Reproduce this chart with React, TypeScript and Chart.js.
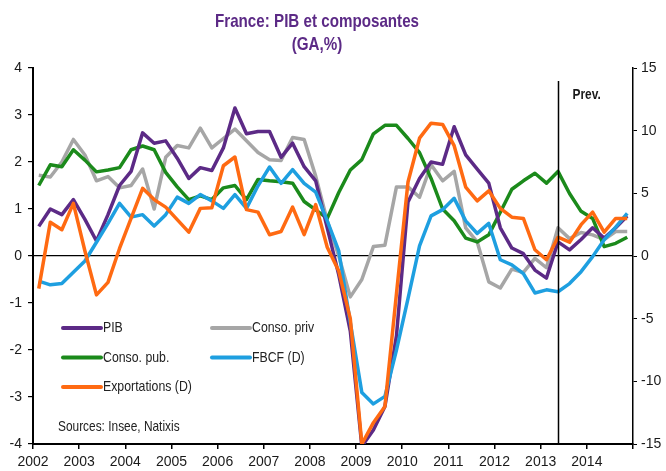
import React, { useEffect, useRef } from 'react';
import { Chart, registerables } from 'chart.js';

Chart.register(...registerables);

// ---- Data (quarterly, 2002 T1 .. 2014 T4) ----
const years = [2002, 2003, 2004, 2005, 2006, 2007, 2008, 2009, 2010, 2011, 2012, 2013, 2014];
const quarters = [1, 2, 3, 4];
const forecastStart = '2013 T2';

const title = 'France: PIB et composantes';
const subtitle = '(GA,%)';
const source = 'Sources: Insee, Natixis';
const prevLabel = 'Prev.';

const leftTicks = [4, 3, 2, 1, 0, -1, -2, -3, -4];
const rightTicks = [15, 10, 5, 0, -5, -10, -15];

// Left axis (GA, %)
const pib = [
  0.63, 1.0, 0.88, 1.2, 0.78, 0.32, 0.88, 1.5, 1.8, 2.62, 2.4, 2.45, 2.08,
  1.65, 1.88, 1.82, 2.3, 3.15, 2.6, 2.65, 2.65, 2.1, 2.4, 1.9, 1.6, 0.6,
  -0.4, -1.6, -4.05, -3.7, -3.2, -1.7, 1.15, 1.65, 2.0, 1.95, 2.75, 2.15, 1.85,
  1.55, 0.6, 0.17, 0.05, -0.3, -0.47, 0.3, 0.13, 0.35, 0.6, 0.38, 0.6, 0.85,
];
const consoPriv = [
  1.72, 1.68, 2.0, 2.48, 2.15, 1.6, 1.69, 1.45, 1.5, 1.85, 1.0, 2.1, 2.35,
  2.3, 2.72, 2.3, 2.5, 2.7, 2.45, 2.2, 2.05, 2.03, 2.52, 2.48, 1.7, 0.75,
  0.0, -0.87, -0.5, 0.2, 0.23, 1.47, 1.47, 1.25, 1.94, 1.6, 1.8, 0.6, 0.3,
  -0.55, -0.68, -0.28, -0.35, -0.05, -0.25, 0.6, 0.37, 0.5, 0.45, 0.35, 0.52, 0.52,
];
const consoPub = [
  1.5, 1.94, 1.9, 2.26, 2.04, 1.79, 1.83, 1.88, 2.26, 2.34, 2.26, 1.78, 1.47,
  1.2, 1.28, 1.2, 1.45, 1.5, 1.2, 1.63, 1.6, 1.58, 1.55, 1.16, 0.98, 0.8,
  1.35, 1.83, 2.05, 2.6, 2.78, 2.78, 2.5, 2.2, 1.65, 1.0, 0.75, 0.38, 0.3,
  0.45, 0.93, 1.42, 1.6, 1.76, 1.55, 1.8, 1.33, 0.95, 0.8, 0.2, 0.27, 0.4,
];
// Right axis (D)
const fbcf = [
  -2.0, -2.3, -2.2, -1.3, -0.4, 1.1, 2.6, 4.2, 3.1, 3.3, 2.4, 3.3, 4.7,
  4.2, 4.9, 4.4, 3.8, 4.9, 3.8, 5.6, 7.1, 5.8, 6.9, 5.8, 5.1, 2.8,
  0.4, -5.3, -10.9, -11.8, -11.2, -7.5, -3.4, 0.8, 3.2, 3.7, 4.6, 2.8, 1.8,
  2.6, -0.3, -0.7, -1.4, -2.95, -2.7, -2.85, -2.2, -1.25, -0.05, 1.3, 2.3, 3.4,
];
const exportations = [
  -2.6, 2.7, 2.1, 4.2, 0.4, -3.1, -2.1, 0.6, 3.0, 5.4, 4.5, 3.9, 2.9,
  1.9, 3.8, 3.85, 7.2, 7.9, 3.7, 3.5, 1.7, 1.95, 3.9, 1.7, 4.1, 0.7,
  -1.2, -5.0, -15.0, -13.3, -12.0, -3.0, 5.9, 9.4, 10.6, 10.5, 8.8, 5.5, 4.4,
  5.2, 3.8, 3.1, 3.0, 0.5, -0.3, 1.5, 1.1, 2.5, 3.5, 1.9, 3.0, 3.0,
];

const quarterLabels = years.flatMap((y) => quarters.map((q) => `${y} T${q}`));
const quarterPos = years.flatMap((y) => quarters.map((q) => y + (q - 0.5) / 4));

const FONT = "'Liberation Sans', Arial, sans-serif";
const NARROW = 0.82;

const COLORS = {
  pib: '#5c2a86',
  priv: '#a6a6a6',
  pub: '#1b8a1b',
  fbcf: '#1e9fe0',
  exp: '#ff6a12',
};

function toPoints(values: number[]) {
  return values.map((v, i) => ({ x: quarterPos[i], y: v }));
}

function narrowText(ctx: CanvasRenderingContext2D, text: string, x: number, y: number) {
  ctx.save();
  ctx.translate(x, y);
  ctx.scale(NARROW, 1);
  ctx.fillText(text, 0, 0);
  ctx.restore();
}

const overlayPlugin = {
  id: 'overlay',
  afterDraw(chart: any) {
    const { ctx, chartArea, scales } = chart;
    const x = scales.x;
    ctx.save();
    // Title
    ctx.fillStyle = '#5c2a86';
    ctx.textAlign = 'center';
    ctx.textBaseline = 'middle';
    ctx.font = `bold 18.5px ${FONT}`;
    narrowText(ctx, title, 317, 22);
    narrowText(ctx, subtitle, 317, 45);

    // Forecast line
    const idx = quarterLabels.indexOf(forecastStart);
    const px = Math.round(x.getPixelForValue(quarterPos[idx])) + 0.5;
    ctx.strokeStyle = '#000';
    ctx.lineWidth = 1.5;
    ctx.beginPath();
    ctx.moveTo(px, chartArea.top + 13);
    ctx.lineTo(px, chartArea.bottom);
    ctx.stroke();
    ctx.fillStyle = '#1a1a1a';
    ctx.textAlign = 'left';
    ctx.font = `bold 14.5px ${FONT}`;
    narrowText(ctx, prevLabel, px + 14, chartArea.top + 27);

    // Legend
    const ds = chart.data.datasets;
    const byLabel = (l: string) => ds.find((d: any) => d.label === l);
    const layout = [
      ['PIB', 0, 0],
      ['Conso. priv', 1, 0],
      ['Conso. pub.', 0, 1],
      ['FBCF (D)', 1, 1],
      ['Exportations (D)', 0, 2],
    ] as [string, number, number][];
    ctx.font = `15px ${FONT}`;
    ctx.lineCap = 'round';
    for (const [label, col, row] of layout) {
      const d = byLabel(label);
      const lx = chartArea.left + 30 + col * 149;
      const ly = chartArea.top + 260 + row * 29.5;
      ctx.strokeStyle = d.borderColor;
      ctx.lineWidth = 4;
      ctx.beginPath();
      ctx.moveTo(lx, ly);
      ctx.lineTo(lx + 38, ly);
      ctx.stroke();
      ctx.fillStyle = '#222';
      narrowText(ctx, label, lx + 40, ly);
    }
    ctx.font = `14.5px ${FONT}`;
    narrowText(ctx, source, chartArea.left + 25, chartArea.top + 359);
    ctx.restore();
  },
};

export default function App() {
  const ref = useRef<HTMLCanvasElement | null>(null);
  useEffect(() => {
    if (!ref.current) return;
    const line = (label: string, data: number[], color: string, axis: string, order: number) => ({
      label,
      data: toPoints(data),
      borderColor: color,
      backgroundColor: color,
      borderWidth: 3.5,
      pointRadius: 0,
      tension: 0,
      yAxisID: axis,
      order,
      borderJoinStyle: 'round' as const,
    });
    const chart = new Chart(ref.current, {
      type: 'line',
      data: {
        datasets: [
          line('PIB', pib, COLORS.pib, 'y', 2),
          line('Conso. priv', consoPriv, COLORS.priv, 'y', 4),
          line('Conso. pub.', consoPub, COLORS.pub, 'y', 3),
          line('FBCF (D)', fbcf, COLORS.fbcf, 'y1', 1),
          line('Exportations (D)', exportations, COLORS.exp, 'y1', 0),
        ],
      },
      options: {
        responsive: false,
        animation: false,
        devicePixelRatio: 1,
        layout: { padding: { top: 68, left: 0, right: 0, bottom: 0 } },
        plugins: { legend: { display: false }, tooltip: { enabled: false }, title: { display: false } },
        scales: {
          x: {
            type: 'linear',
            min: years[0],
            max: years[years.length - 1] + 1,
            afterFit: (s: any) => { s.height = 27; },
            afterBuildTicks: (s: any) => {
              s.ticks = [...years, years[years.length - 1] + 1].map((v) => ({ value: v }));
            },
            ticks: {
              autoSkip: false,
              maxRotation: 0,
              padding: 5,
              color: '#1a1a1a',
              font: { family: FONT, size: 14 },
              callback: (v: any) => (years.includes(Number(v)) ? String(v) : ''),
            },
            grid: { drawOnChartArea: false, tickColor: '#000', tickLength: 5, lineWidth: 1.5 },
            border: { display: true, color: '#000', width: 2 },
          },
          y: {
            position: 'left',
            min: leftTicks[leftTicks.length - 1],
            max: leftTicks[0],
            afterFit: (s: any) => { s.width = 33; },
            afterBuildTicks: (s: any) => { s.ticks = leftTicks.map((v) => ({ value: v })); },
            ticks: { padding: 6, color: '#1a1a1a', font: { family: FONT, size: 14 } },
            grid: {
              color: (c: any) => (c.tick && c.tick.value === 0 ? '#000' : 'rgba(0,0,0,0)'),
              tickColor: '#000',
              tickLength: 5,
              lineWidth: 1.2,
            },
            border: { display: true, color: '#000', width: 2 },
          },
          y1: {
            position: 'right',
            min: rightTicks[rightTicks.length - 1],
            max: rightTicks[0],
            afterFit: (s: any) => { s.width = 33; },
            afterBuildTicks: (s: any) => { s.ticks = rightTicks.map((v) => ({ value: v })); },
            ticks: { padding: 4, color: '#1a1a1a', font: { family: FONT, size: 14 } },
            grid: { drawOnChartArea: false, tickColor: '#000', tickLength: 4 },
            border: { display: true, color: '#000', width: 1.5 },
          },
        },
      },
      plugins: [overlayPlugin],
    });
    return () => chart.destroy();
  }, []);
  return (
    <div style={{ position: 'fixed', left: 0, top: 0, width: 666, height: 471, background: '#fff' }}>
      <canvas ref={ref} width={666} height={471} style={{ width: 666, height: 471, display: 'block' }} />
    </div>
  );
}
